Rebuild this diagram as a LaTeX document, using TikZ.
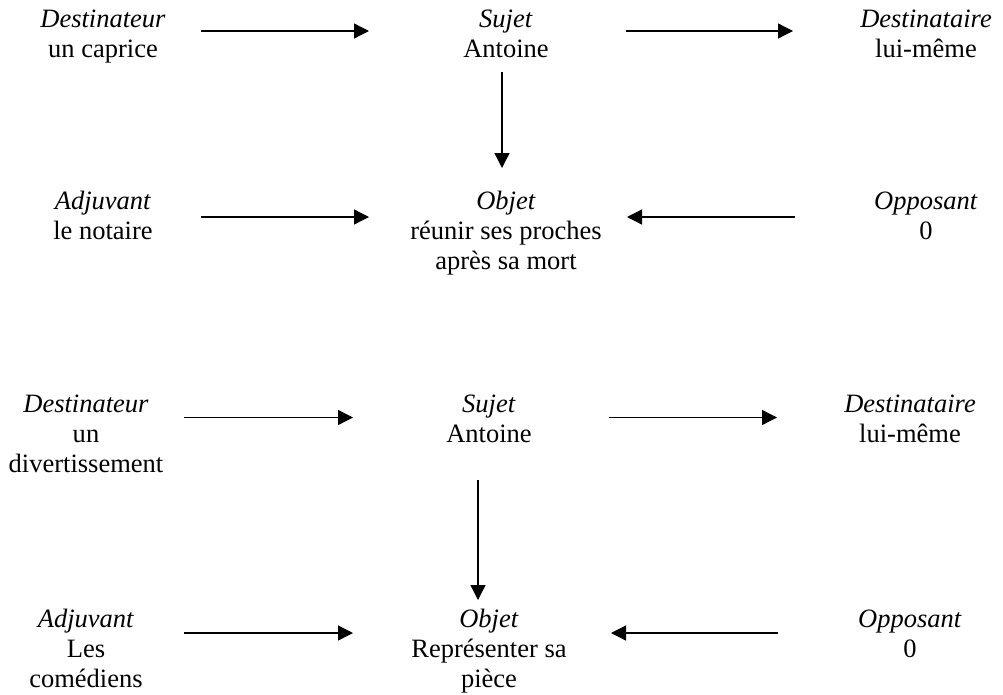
\documentclass[tikz,border=0pt]{standalone}
\usepackage{fontspec}
\setmainfont{Liberation Serif}
\usetikzlibrary{arrows.meta,positioning}

\tikzset{
  role/.style={align=center,inner sep=0pt,anchor=base,font=\fontsize{26.5}{30}\selectfont},
  fleche/.style={-{Triangle[length=15pt,width=15pt]},line width=1.3pt}
}

\begin{document}
\begin{tikzpicture}[x=1pt,y=-1pt]
  \useasboundingbox (0,0) rectangle (1003,694);
  % premier schema (base = derniere ligne)
  \node[role] (dest1) at (103,57) {\textit{Destinateur}\\un caprice};
  \node[role] (suj1) at (506,57) {\textit{Sujet}\\Antoine};
  \node[role] (dsta1) at (926,57) {\textit{Destinataire}\\lui-même};
  \node[role] (adj1) at (103,239.5) {\textit{Adjuvant}\\le notaire};
  \node[role] (obj1) at (506,269.5) {\textit{Objet}\\réunir ses proches\\après sa mort};
  \node[role] (opp1) at (926,239.5) {\textit{Opposant}\\0};
  \coordinate (f1a) at (201,31);   \coordinate (f1b) at (369,31);
  \coordinate (f2a) at (626,31);   \coordinate (f2b) at (793,31);
  \coordinate (f3a) at (502,72);   \coordinate (f3b) at (502,168);
  \coordinate (f4a) at (201,217);  \coordinate (f4b) at (369,217);
  \coordinate (f5a) at (795,217);  \coordinate (f5b) at (627,217);
  \draw[fleche] (f1a) -- (f1b);
  \draw[fleche] (f2a) -- (f2b);
  \draw[fleche] (f3a) -- (f3b);
  \draw[fleche] (f4a) -- (f4b);
  \draw[fleche] (f5a) -- (f5b);

  % second schema
  \node[role] (dest2) at (86,472.5) {\textit{Destinateur}\\un\\divertissement};
  \node[role] (suj2) at (489,442.5) {\textit{Sujet}\\Antoine};
  \node[role] (dsta2) at (910,442.5) {\textit{Destinataire}\\lui-même};
  \node[role] (adj2) at (86,687) {\textit{Adjuvant}\\Les\\comédiens};
  \node[role] (obj2) at (489,687) {\textit{Objet}\\Représenter sa\\pièce};
  \node[role] (opp2) at (910,657) {\textit{Opposant}\\0};
  \coordinate (g1a) at (184,417.5); \coordinate (g1b) at (353,417.5);
  \coordinate (g2a) at (609,417.5); \coordinate (g2b) at (777,417.5);
  \coordinate (g3a) at (478,480);   \coordinate (g3b) at (478,600);
  \coordinate (g4a) at (184,633);   \coordinate (g4b) at (353,633);
  \coordinate (g5a) at (778,633);   \coordinate (g5b) at (611,633);
  \draw[fleche] (g1a) -- (g1b);
  \draw[fleche] (g2a) -- (g2b);
  \draw[fleche] (g3a) -- (g3b);
  \draw[fleche] (g4a) -- (g4b);
  \draw[fleche] (g5a) -- (g5b);
\end{tikzpicture}
\end{document}
